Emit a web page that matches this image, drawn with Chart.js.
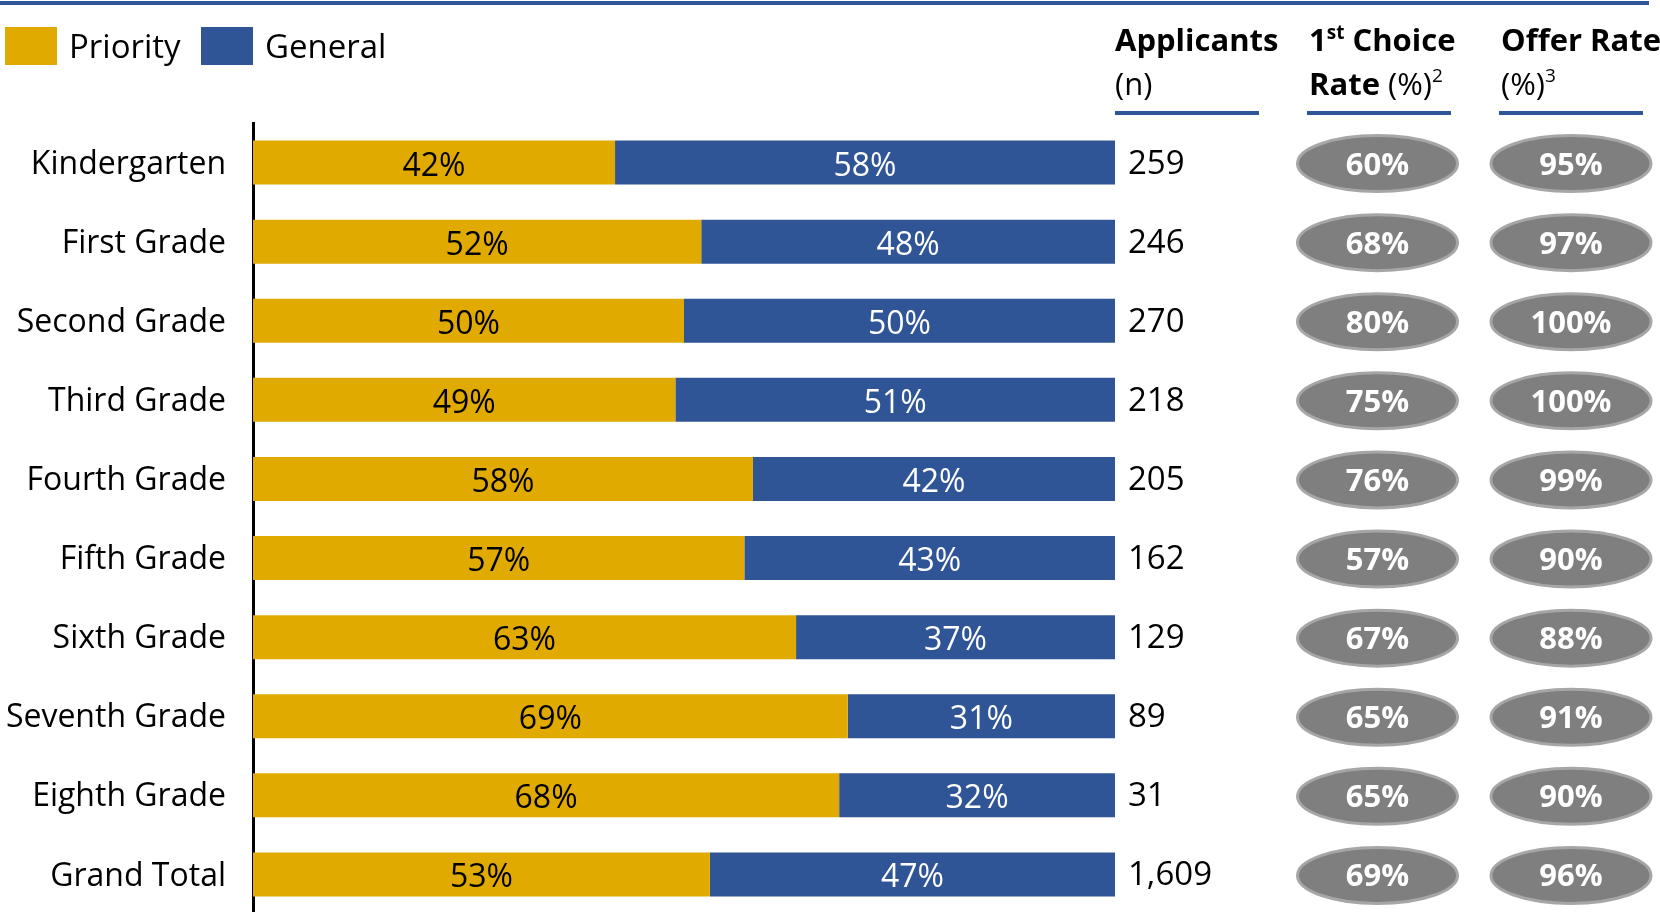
<!DOCTYPE html>
<html>
<head>
<meta charset="utf-8">
<script src="https://cdn.jsdelivr.net/npm/chart.js@4"></script>
<style>
  html, body { margin: 0; padding: 0; background: #fff; overflow: hidden; }
  #wrap { position: relative; width: 1660px; height: 915px; }
</style>
</head>
<body>
<div id="wrap"><canvas id="gradeChart"></canvas></div>
<script>
const grades = ['Kindergarten', 'First Grade', 'Second Grade', 'Third Grade', 'Fourth Grade',
    'Fifth Grade', 'Sixth Grade', 'Seventh Grade', 'Eighth Grade', 'Grand Total'];
const priority = [42, 52, 50, 49, 58, 57, 63, 69, 68, 53];
const general = [58, 48, 50, 51, 42, 43, 37, 31, 32, 47];
const applicants = [259, 246, 270, 218, 205, 162, 129, 89, 31, 1609];
const firstChoice = [60, 68, 80, 75, 76, 57, 67, 65, 65, 69];
const offerRate = [95, 97, 100, 100, 99, 90, 88, 91, 90, 96];

const gold = '#E0AA00';
const blue = '#2F5597';
const pill = '#7F7F7F';
const pillEdge = '#A6A6A6';
const FONT = '"Open Sans", sans-serif';

function drawRuns(ctx, x, y, runs) {
    runs.forEach(r => {
        ctx.font = r.font;
        ctx.fillText(r.t, x, y + (r.dy || 0));
        x += ctx.measureText(r.t).width;
    });
}

const overlay = {
    id: 'overlay',
    afterDatasetsDraw(chart) {
        const ctx = chart.ctx;
        ctx.save();

        // bar labels
        ctx.textAlign = 'center';
        ctx.textBaseline = 'alphabetic';
        ctx.font = '32px ' + FONT;
        chart.data.datasets.forEach((ds, i) => {
            const meta = chart.getDatasetMeta(i);
            ctx.fillStyle = i === 0 ? '#000' : '#fff';
            meta.data.forEach((bar, j) => {
                const cx = (bar.x + bar.base) / 2;
                ctx.fillText(ds.data[j] + '%', cx, bar.y + 13);
            });
        });
        ctx.restore();
    },
    afterDraw(chart) {
        const ctx = chart.ctx;
        const yScale = chart.scales.y;
        ctx.save();

        // top rule
        ctx.fillStyle = blue;
        ctx.fillRect(0, 1, 1649, 4);

        // legend
        const legendX = [5, 201];
        chart.data.datasets.forEach((ds, i) => {
            ctx.fillStyle = ds.backgroundColor;
            ctx.fillRect(legendX[i], 27, 52, 38);
            ctx.fillStyle = '#000';
            ctx.font = '33px ' + FONT;
            ctx.textAlign = 'left';
            ctx.fillText(ds.label, legendX[i] + 64, 58);
        });

        // column headers
        const b = 'bold 31px ' + FONT;
        const n = '31px ' + FONT;
        const bs = 'bold 19px ' + FONT;
        const ns = '19px ' + FONT;
        ctx.fillStyle = '#000';
        ctx.textAlign = 'left';
        drawRuns(ctx, 1115, 51, [{ t: 'Applicants', font: b }]);
        drawRuns(ctx, 1115, 95, [{ t: '(n)', font: n }]);
        drawRuns(ctx, 1309, 51, [{ t: '1', font: b }, { t: 'st', font: bs, dy: -12 }, { t: ' Choice', font: b }]);
        drawRuns(ctx, 1309, 95, [{ t: 'Rate ', font: b }, { t: '(%)', font: n }, { t: '2', font: ns, dy: -13 }]);
        drawRuns(ctx, 1501, 51, [{ t: 'Offer Rate', font: b }]);
        drawRuns(ctx, 1501, 95, [{ t: '(%)', font: n }, { t: '3', font: ns, dy: -13 }]);

        ctx.fillStyle = blue;
        [[1115, 1259], [1307, 1451], [1499, 1643]].forEach(u => {
            ctx.fillRect(u[0], 111, u[1] - u[0], 4);
        });

        // applicants + rate pills per row
        grades.forEach((g, j) => {
            const y = yScale.getPixelForValue(j);

            ctx.fillStyle = '#000';
            ctx.textAlign = 'left';
            ctx.font = '33px ' + FONT;
            ctx.fillText(applicants[j].toLocaleString('en-US'), 1128, y + 11);

            [[1377.5, firstChoice[j]], [1571, offerRate[j]]].forEach(p => {
                ctx.beginPath();
                ctx.ellipse(p[0], y + 1, 80, 28, 0, 0, Math.PI * 2);
                ctx.fillStyle = pill;
                ctx.fill();
                ctx.lineWidth = 3;
                ctx.strokeStyle = pillEdge;
                ctx.stroke();
                ctx.fillStyle = '#fff';
                ctx.textAlign = 'center';
                ctx.font = 'bold 31px ' + FONT;
                ctx.fillText(p[1] + '%', p[0], y + 12);
            });
        });

        ctx.restore();
    }
};

const ctx = document.getElementById('gradeChart').getContext('2d');

new Chart(ctx, {
    type: 'bar',
    data: {
        labels: grades,
        datasets: [{
            label: 'Priority',
            data: priority,
            backgroundColor: gold,
            barPercentage: 0.556,
            categoryPercentage: 1
        }, {
            label: 'General',
            data: general,
            backgroundColor: blue,
            barPercentage: 0.556,
            categoryPercentage: 1
        }]
    },
    options: {
        indexAxis: 'y',
        responsive: true,
        maintainAspectRatio: false,
        animation: false,
        layout: {
            padding: { top: 123, right: 545, bottom: 1, left: 0 }
        },
        plugins: {
            legend: { display: false },
            tooltip: { enabled: false }
        },
        scales: {
            x: {
                stacked: true,
                min: 0,
                max: 100,
                display: false
            },
            y: {
                stacked: true,
                grid: { display: false, drawTicks: false },
                border: { display: true, color: '#000', width: 3 },
                ticks: {
                    color: '#000',
                    padding: 27,
                    labelOffset: 2,
                    font: { family: FONT, size: 32 }
                },
                afterFit(scale) {
                    scale.width = 253;
                    scale.paddingTop = 0;
                    scale.paddingBottom = 0;
                }
            }
        }
    },
    plugins: [overlay]
});
</script>
</body>
</html>
